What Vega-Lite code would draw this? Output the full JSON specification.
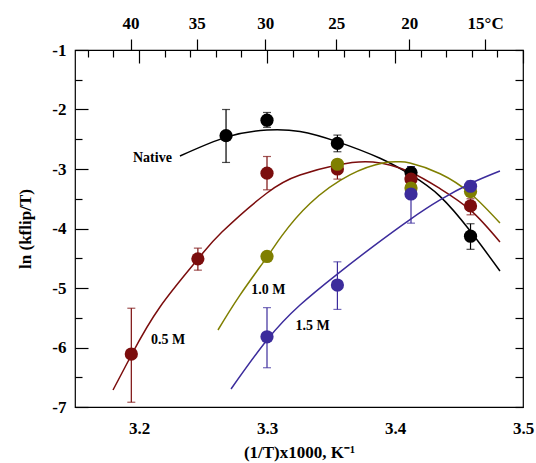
{
  "$schema": "https://vega.github.io/schema/vega-lite/v6.json",
  "width": 448,
  "height": 357,
  "autosize": {"type": "none"},
  "padding": {"left": 75, "top": 50, "right": 13, "bottom": 56},
  "background": "white",
  "config": {
    "view": {"stroke": "black", "strokeWidth": 1.2},
    "font": "Liberation Serif",
    "axis": {
      "labelFont": "Liberation Serif",
      "labelFontWeight": "bold",
      "labelFontSize": 17,
      "labelColor": "black",
      "titleFont": "Liberation Serif",
      "titleFontWeight": "bold",
      "titleFontSize": 17,
      "titleColor": "black",
      "tickColor": "black",
      "tickWidth": 1.2,
      "domain": false,
      "grid": false,
      "labelFlush": false,
      "gridColor": "black",
      "gridOpacity": 1,
      "gridWidth": 1.2
    }
  },
  "datasets": {
    "curves": [
      {"s": "Native", "x": 3.232, "y": -2.782},
      {"s": "Native", "x": 3.2688, "y": -2.46},
      {"s": "Native", "x": 3.300, "y": -2.345},
      {"s": "Native", "x": 3.3258, "y": -2.37},
      {"s": "Native", "x": 3.3547, "y": -2.54},
      {"s": "Native", "x": 3.3883, "y": -2.82},
      {"s": "Native", "x": 3.4125, "y": -3.10},
      {"s": "Native", "x": 3.4352, "y": -3.46},
      {"s": "Native", "x": 3.4594, "y": -4.06},
      {"s": "Native", "x": 3.482, "y": -4.714},
      {"s": "0.5 M", "x": 3.1797, "y": -6.714},
      {"s": "0.5 M", "x": 3.1945, "y": -6.109},
      {"s": "0.5 M", "x": 3.2164, "y": -5.319},
      {"s": "0.5 M", "x": 3.2461, "y": -4.513},
      {"s": "0.5 M", "x": 3.2648, "y": -4.06},
      {"s": "0.5 M", "x": 3.300, "y": -3.403},
      {"s": "0.5 M", "x": 3.3258, "y": -3.101},
      {"s": "0.5 M", "x": 3.3547, "y": -2.933},
      {"s": "0.5 M", "x": 3.3828, "y": -2.882},
      {"s": "0.5 M", "x": 3.4117, "y": -3.05},
      {"s": "0.5 M", "x": 3.4352, "y": -3.33},
      {"s": "0.5 M", "x": 3.4594, "y": -3.70},
      {"s": "0.5 M", "x": 3.482, "y": -4.227},
      {"s": "1.0 M", "x": 3.2617, "y": -5.706},
      {"s": "1.0 M", "x": 3.2789, "y": -5.12},
      {"s": "1.0 M", "x": 3.300, "y": -4.48},
      {"s": "1.0 M", "x": 3.3117, "y": -4.12},
      {"s": "1.0 M", "x": 3.3336, "y": -3.58},
      {"s": "1.0 M", "x": 3.3648, "y": -3.10},
      {"s": "1.0 M", "x": 3.3906, "y": -2.90},
      {"s": "1.0 M", "x": 3.4023, "y": -2.88},
      {"s": "1.0 M", "x": 3.4117, "y": -2.90},
      {"s": "1.0 M", "x": 3.4352, "y": -3.08},
      {"s": "1.0 M", "x": 3.4594, "y": -3.42},
      {"s": "1.0 M", "x": 3.482, "y": -3.908},
      {"s": "1.5 M", "x": 3.2719, "y": -6.697},
      {"s": "1.5 M", "x": 3.300, "y": -5.874},
      {"s": "1.5 M", "x": 3.3258, "y": -5.286},
      {"s": "1.5 M", "x": 3.3547, "y": -4.77},
      {"s": "1.5 M", "x": 3.3830, "y": -4.30},
      {"s": "1.5 M", "x": 3.4117, "y": -3.85},
      {"s": "1.5 M", "x": 3.4352, "y": -3.52},
      {"s": "1.5 M", "x": 3.4594, "y": -3.24},
      {"s": "1.5 M", "x": 3.482, "y": -3.034}
    ],
    "pts": [
      {"s": "Native", "x": 3.268, "y": -2.44, "lo": -2.89, "hi": -2.0},
      {"s": "Native", "x": 3.300, "y": -2.18, "lo": -2.3, "hi": -2.05},
      {"s": "Native", "x": 3.355, "y": -2.57, "lo": -2.71, "hi": -2.43},
      {"s": "Native", "x": 3.4125, "y": -3.06, "lo": -3.16, "hi": -2.96},
      {"s": "Native", "x": 3.459, "y": -4.13, "lo": -4.35, "hi": -3.92},
      {"s": "0.5 M", "x": 3.194, "y": -6.11, "lo": -6.92, "hi": -5.34},
      {"s": "0.5 M", "x": 3.246, "y": -4.51, "lo": -4.7, "hi": -4.33},
      {"s": "0.5 M", "x": 3.300, "y": -3.07, "lo": -3.35, "hi": -2.79},
      {"s": "0.5 M", "x": 3.355, "y": -3.0, "lo": -3.17, "hi": -2.85},
      {"s": "0.5 M", "x": 3.4125, "y": -3.17, "lo": -3.27, "hi": -3.07},
      {"s": "0.5 M", "x": 3.459, "y": -3.62, "lo": -3.77, "hi": -3.5},
      {"s": "1.0 M", "x": 3.300, "y": -4.47, "lo": null, "hi": null},
      {"s": "1.0 M", "x": 3.355, "y": -2.92, "lo": null, "hi": null},
      {"s": "1.0 M", "x": 3.4125, "y": -3.32, "lo": null, "hi": null},
      {"s": "1.0 M", "x": 3.459, "y": -3.38, "lo": null, "hi": null},
      {"s": "1.5 M", "x": 3.300, "y": -5.82, "lo": -6.34, "hi": -5.33},
      {"s": "1.5 M", "x": 3.355, "y": -4.95, "lo": -5.36, "hi": -4.56},
      {"s": "1.5 M", "x": 3.4125, "y": -3.42, "lo": -3.91, "hi": -2.96},
      {"s": "1.5 M", "x": 3.459, "y": -3.29, "lo": -3.38, "hi": -3.2}
    ],
    "labels": [
      {"t": "Native", "x": 3.2105, "y": -2.815},
      {"t": "0.5 M", "x": 3.2227, "y": -5.874},
      {"t": "1.0 M", "x": 3.301, "y": -5.034},
      {"t": "1.5 M", "x": 3.3357, "y": -5.639}
    ]
  },
  "resolve": {"axis": {"x": "independent", "y": "independent"}},
  "layer": [
    {
      "data": {"name": "curves"},
      "mark": {"type": "line", "strokeWidth": 1.5, "interpolate": "natural"},
      "encoding": {
        "x": {"field": "x", "type": "quantitative",
          "scale": {"domain": [3.15, 3.5], "nice": false, "zero": false},
          "axis": {"orient": "bottom", "values": [3.2, 3.3, 3.4, 3.5], "format": ".1f", "ticks": false, "labelPadding": 13, "title": "(1/T)x1000, K⁻¹", "titleX": 224, "titleY": 45, "titleBaseline": "middle"}},
        "y": {"field": "y", "type": "quantitative",
          "scale": {"domain": [-7, -1], "nice": false, "zero": false},
          "axis": {"orient": "left", "values": [-7, -6, -5, -4, -3, -2, -1], "labelExpr": "'' + datum.value", "ticks": false, "labelPadding": 9, "title": "ln (kflip/T)", "titleX": -50, "titleY": 178.5, "titleBaseline": "middle", "titleAngle": 270}},
        "color": {"field": "s", "type": "nominal", "legend": null,
          "scale": {"domain": ["Native", "0.5 M", "1.0 M", "1.5 M"], "range": ["#000000", "#7b0d0d", "#7f7f00", "#3c2c9c"]}},
        "detail": {"field": "s"}
      }
    },
    {
      "data": {"name": "pts"},
      "mark": {"type": "rule", "strokeWidth": 1.2},
      "encoding": {
        "x": {"field": "x", "type": "quantitative",
          "axis": {"orient": "bottom", "values": [3.2, 3.3, 3.4, 3.5], "labelExpr": "''", "ticks": false, "grid": true, "gridDash": [13, 1000], "title": null}},
        "y": {"field": "lo", "type": "quantitative",
          "axis": {"orient": "left", "values": [-7, -6, -5, -4, -3, -2, -1], "labelExpr": "''", "ticks": false, "grid": true, "gridDash": [13, 1000], "title": null}},
        "y2": {"field": "hi"},
        "color": {"field": "s", "type": "nominal", "legend": null}
      }
    },
    {
      "data": {"name": "pts"},
      "mark": {"type": "tick", "orient": "horizontal", "size": 8, "thickness": 1.2},
      "encoding": {
        "x": {"field": "x", "type": "quantitative",
          "axis": {"orient": "bottom", "values": [3.16, 3.18, 3.22, 3.24, 3.26, 3.28, 3.32, 3.34, 3.36, 3.38, 3.42, 3.44, 3.46, 3.48], "labelExpr": "''", "ticks": false, "grid": true, "gridDash": [7, 1000], "title": null}},
        "y": {"field": "lo", "type": "quantitative",
          "axis": {"orient": "left", "values": [-6.5, -5.5, -4.5, -3.5, -2.5, -1.5], "labelExpr": "''", "ticks": false, "grid": true, "gridDash": [7, 1000], "title": null}},
        "color": {"field": "s", "type": "nominal", "legend": null}
      }
    },
    {
      "data": {"name": "pts"},
      "mark": {"type": "tick", "orient": "horizontal", "size": 8, "thickness": 1.2},
      "encoding": {
        "x": {"field": "x", "type": "quantitative",
          "axis": {"orient": "top", "values": [3.19336, 3.24517, 3.2987, 3.35402, 3.41122, 3.47041], "labelExpr": "datum.value > 3.46 ? '15°C' : '' + round(1000 / datum.value - 273.15)", "tickSize": 11, "labelPadding": 7, "title": null}},
        "y": {"field": "hi", "type": "quantitative",
          "axis": {"orient": "right", "values": [-7, -6.5, -6, -5.5, -5, -4.5, -4, -3.5, -3, -2.5, -2, -1.5, -1], "labelExpr": "''", "ticks": false, "grid": true, "gridDash": [8, 1000], "title": null}},
        "color": {"field": "s", "type": "nominal", "legend": null}
      }
    },
    {
      "data": {"name": "pts"},
      "mark": {"type": "circle", "size": 175, "opacity": 1},
      "encoding": {
        "x": {"field": "x", "type": "quantitative", "axis": null},
        "y": {"field": "y", "type": "quantitative", "axis": null},
        "color": {"field": "s", "type": "nominal", "legend": null}
      }
    },
    {
      "data": {"name": "labels"},
      "mark": {"type": "text", "font": "Liberation Serif", "fontWeight": "bold", "fontSize": 14, "align": "center", "baseline": "middle", "color": "black"},
      "encoding": {
        "x": {"field": "x", "type": "quantitative", "axis": null},
        "y": {"field": "y", "type": "quantitative", "axis": null},
        "text": {"field": "t"}
      }
    }
  ]
}
